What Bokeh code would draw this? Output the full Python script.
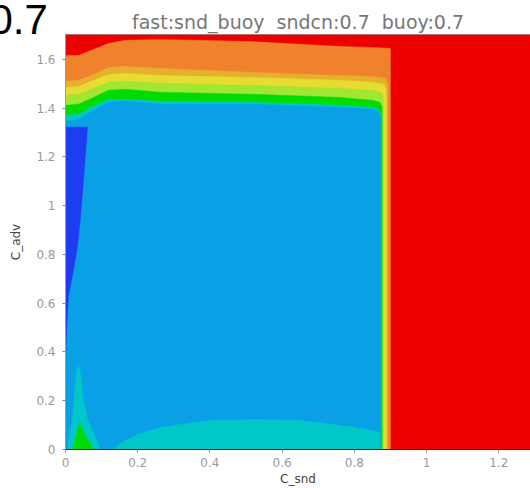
from bokeh.plotting import figure
from bokeh.models import Range1d, FixedTicker, CustomJSTickFormatter, Title
from bokeh.embed import file_html
from bokeh.resources import INLINE

# ---------------- data ----------------
title_text = "fast:snd_buoy\u00a0\u00a0sndcn:0.7\u00a0\u00a0buoy:0.7"
corner_text = "0.7"
x_ticks = [0, 0.2, 0.4, 0.6, 0.8, 1.0, 1.2]
y_ticks = [0, 0.2, 0.4, 0.6, 0.8, 1.0, 1.2, 1.4, 1.6]

# x positions (C_snd) where the upper band boundaries were read
band_x = [0.0, 0.036, 0.078, 0.119, 0.166, 0.263, 0.512, 0.762, 0.850]
# upper boundary (C_adv) of each filled level, outermost first
orange_top = [1.616, 1.616, 1.641, 1.665, 1.678, 1.682, 1.673, 1.653, 1.649]
gold_top   = [1.510, 1.514, 1.538, 1.567, 1.571, 1.563, 1.547, 1.534, 1.530]
yellow_top = [1.485, 1.489, 1.514, 1.538, 1.543, 1.534, 1.526, 1.514, 1.506]
ygreen_top = [1.453, 1.457, 1.481, 1.506, 1.510, 1.502, 1.493, 1.481, 1.473]
green_top  = [1.412, 1.416, 1.444, 1.473, 1.477, 1.465, 1.457, 1.444, 1.432]
cyan_top   = [1.371, 1.375, 1.408, 1.436, 1.436, 1.428, 1.424, 1.412, 1.403]
blue_top   = [1.346, 1.354, 1.391, 1.424, 1.428, 1.416, 1.416, 1.403, 1.395]
# right edge (C_snd) of each level
band_right = [0.900, 0.893, 0.888, 0.881, 0.877, 0.873, 0.871]
band_tops = [orange_top, gold_top, yellow_top, ygreen_top, green_top, cyan_top, blue_top]
band_colors = ["#F0822D", "#E6AF2D", "#E6DC32", "#A0E632", "#00DC00", "#00C8C8", "#0AA0E6"]
background_color = "#EE0000"

# dark-blue patch along the left edge
dblue_x = [0.0, 0.061, 0.053, 0.042, 0.033, 0.022, 0.008, 0.003, 0.0]
dblue_y = [1.322, 1.322, 1.166, 0.962, 0.831, 0.736, 0.626, 0.491, 0.368]
# cyan region along the bottom
cyan_bot_x = [0.133, 0.152, 0.172, 0.208, 0.263, 0.332, 0.402, 0.540, 0.651, 0.726, 0.803, 0.864, 0.871, 0.871]
cyan_bot_y = [0.0, 0.025, 0.041, 0.065, 0.090, 0.106, 0.119, 0.123, 0.119, 0.106, 0.090, 0.074, 0.070, 0.0]
# cyan spike near the origin
spike_x = [0.006, 0.008, 0.019, 0.025, 0.030, 0.036, 0.042, 0.047, 0.061, 0.089, 0.097]
spike_y = [0.0, 0.029, 0.123, 0.225, 0.307, 0.348, 0.307, 0.225, 0.123, 0.029, 0.0]
# green triangle at the origin
gtri_x = [0.019, 0.030, 0.039, 0.053, 0.078]
gtri_y = [0.0, 0.061, 0.110, 0.061, 0.0]
gtri_color = "#00DC00"
dblue_color = "#1E3CF0"
cyan_color = "#00C8C8"

X_END = 1.288
Y_END = 1.702

p = figure(width=530, height=488, output_backend="svg", toolbar_location=None,
           x_range=Range1d(0, X_END), y_range=Range1d(0, Y_END),
           min_border_left=65, min_border_right=0, min_border_top=34, min_border_bottom=38,
           title=title_text)

p.background_fill_color = background_color
p.border_fill_color = None

# background (highest level)
p.patch([0, X_END, X_END, 0], [0, 0, Y_END, Y_END], fill_color=background_color, line_color=None)

for tops, right, col in zip(band_tops, band_right, band_colors):
    xs = [0.0] + band_x
    ys = [0.0] + tops
    if col == band_colors[0]:
        xs += [right]
        ys += [tops[-1] - 0.004]
    else:
        xs += [right - 0.006, right]
        ys += [tops[-1] - 0.008, tops[-1] - 0.03]
    xs += [right, 0.0]
    ys += [0.0, 0.0]
    p.patch(xs, ys, fill_color=col, line_color=col, line_width=0.5)

p.patch(dblue_x, dblue_y, fill_color=dblue_color, line_color=dblue_color, line_width=0.5)
p.patch(cyan_bot_x, cyan_bot_y, fill_color=cyan_color, line_color=cyan_color, line_width=0.5)
p.patch(spike_x, spike_y, fill_color=cyan_color, line_color=cyan_color, line_width=0.5)
p.patch(gtri_x, gtri_y, fill_color=gtri_color, line_color=gtri_color, line_width=0.5)

# grids off
p.xgrid.visible = False
p.ygrid.visible = False
p.outline_line_color = "#9a9a9a"
p.outline_line_width = 1

fmt = CustomJSTickFormatter(code="var s = tick.toFixed(1); return s.endsWith('.0') ? s.slice(0, -2) : s;")

for ax, ticks in ((p.xaxis[0], x_ticks), (p.yaxis[0], y_ticks)):
    ax.ticker = FixedTicker(ticks=ticks)
    ax.formatter = fmt
    ax.minor_tick_line_color = None
    ax.major_tick_in = 0
    ax.major_tick_out = 3
    ax.major_tick_line_color = "#888888"
    ax.major_label_text_color = "#9a9a9a"
    ax.major_label_text_font = "DejaVu Sans"
    ax.major_label_text_font_size = "12px"
    ax.axis_label_text_font = "DejaVu Sans"
    ax.axis_label_text_font_style = "normal"
    ax.axis_label_text_font_size = "12px"
    ax.axis_label_text_color = "#444444"

p.xaxis.axis_label = "C_snd"
p.yaxis.axis_label = "C_adv"
p.xaxis.axis_line_color = "#222222"
p.yaxis.axis_line_color = "#9a9a9a"
p.xaxis.major_label_standoff = 5
p.yaxis.major_label_standoff = 7
p.xaxis.axis_label_standoff = 2
p.yaxis.axis_label_standoff = 10

p.title.align = "center"
p.title.text_font = "DejaVu Sans"
p.title.text_font_style = "normal"
p.title.text_font_size = "19px"
p.title.text_color = "#777777"
p.title.standoff = 3

# large corner text, as a second title with a negative standoff so it takes no room
corner = Title(text=corner_text, align="left", vertical_align="top", offset=-76, standoff=-60,
               text_font="Liberation Sans", text_font_size="42px",
               text_font_style="normal", text_color="black")
p.add_layout(corner, "above")

open("out.html", "w").write(file_html(p, INLINE))
